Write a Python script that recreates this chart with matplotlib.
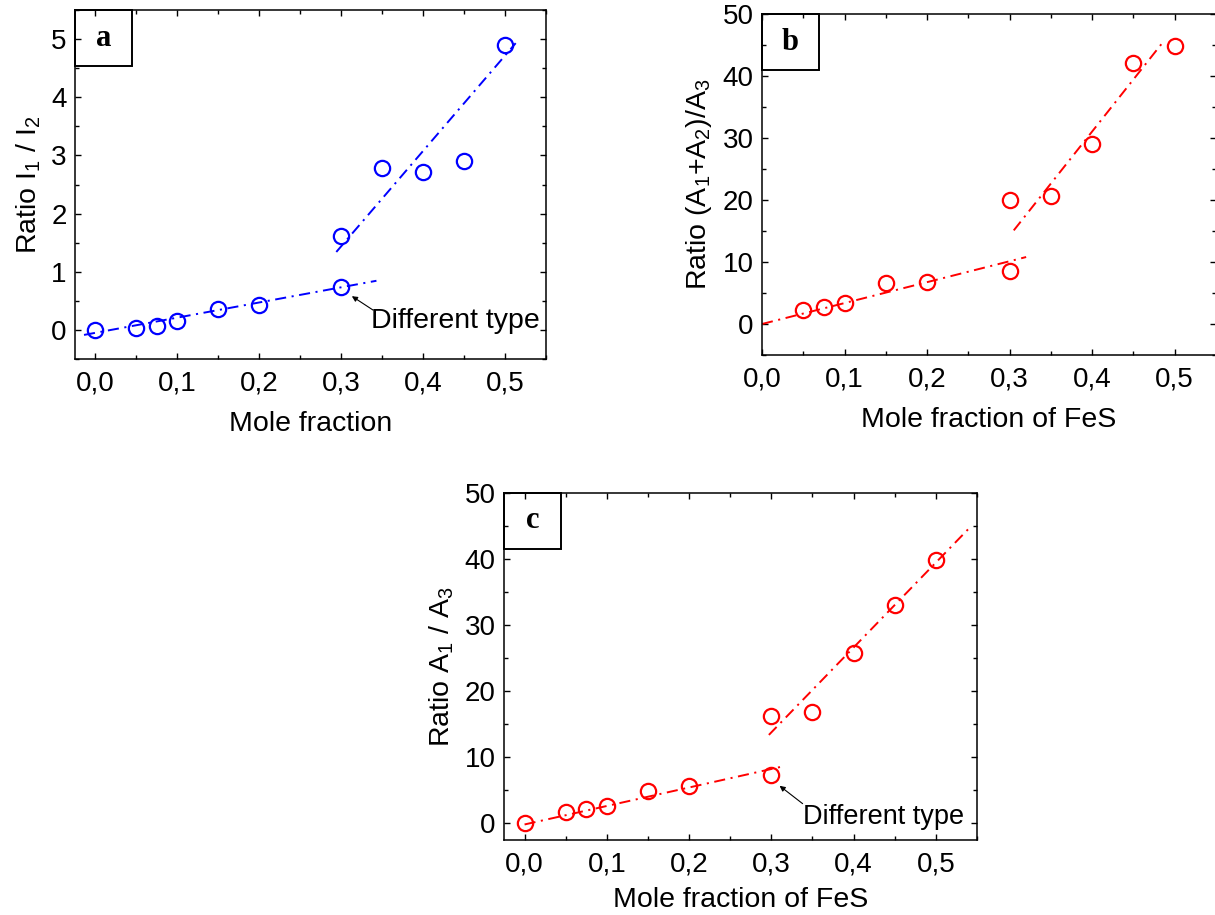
import numpy as np
import matplotlib
matplotlib.use('Agg')
import matplotlib.pyplot as plt
from matplotlib.patches import Rectangle
from matplotlib.ticker import MultipleLocator, FuncFormatter

plt.rcParams['font.family'] = ['Liberation Sans', 'DejaVu Sans']
plt.rcParams['mathtext.default'] = 'regular'
plt.rcParams['lines.scale_dashes'] = False

#~~~~~~~~~~~~~~~~~~~~~~~~~~~~~~~~~~~~~~~~~~~~~
# data
#~~~~~~~~~~~~~~~~~~~~~~~~~~~~~~~~~~~~~~~~~~~~~
# panel a : I1 / I2
a_x1 = [0.0, 0.05, 0.075, 0.1, 0.15, 0.2, 0.3]
a_y1 = [0.0, 0.04, 0.06, 0.155, 0.36, 0.43, 0.73]
a_x2 = [0.3, 0.35, 0.4, 0.45, 0.5]
a_y2 = [1.61, 2.78, 2.72, 2.9, 4.9]
a_fit1_x = [-0.014, 0.343]
a_fit1_y = [-0.086, 0.845]
a_fit2_x = [0.294, 0.513]
a_fit2_y = [1.34, 4.93]

# panel b : (A1+A2)/A3
b_x1 = [0.05, 0.075, 0.1, 0.15, 0.2, 0.3]
b_y1 = [2.27, 2.8, 3.34, 6.6, 6.75, 8.5]
b_x2 = [0.3, 0.35, 0.4, 0.45, 0.5]
b_y2 = [20.0, 20.6, 29.1, 42.1, 44.9]
b_fit1_x = [0.0, 0.32]
b_fit1_y = [0.0, 10.8]
b_fit2_x = [0.305, 0.486]
b_fit2_y = [15.1, 45.5]

# panel c : A1 / A3
c_x1 = [0.0, 0.05, 0.075, 0.1, 0.15, 0.2, 0.3]
c_y1 = [0.0, 1.76, 2.2, 2.6, 4.9, 5.6, 7.4]
c_x2 = [0.3, 0.35, 0.4, 0.45, 0.5]
c_y2 = [16.3, 16.9, 25.75, 33.0, 39.8]
c_fit1_x = [0.0, 0.311]
c_fit1_y = [-0.15, 8.55]
c_fit2_x = [0.297, 0.543]
c_fit2_y = [13.4, 45.0]

W, H = 1215, 915
fig = plt.figure(figsize=(W / 100, H / 100), dpi=100)

def px_axes(l, t, r, b):
     return fig.add_axes([l / W, 1 - b / H, (r - l) / W, (b - t) / H])

dashdot = (0, (8, 4, 1.5, 4))

def setup(ax, xlim, ylim, ymaj, ymin, xlabel, ylabel, letter, xpad=11):
     ax.set_xlim(xlim)
     ax.set_ylim(ylim)
     ax.xaxis.set_major_locator(MultipleLocator(0.1))
     ax.xaxis.set_minor_locator(MultipleLocator(0.05))
     ax.yaxis.set_major_locator(MultipleLocator(ymaj))
     ax.yaxis.set_minor_locator(MultipleLocator(ymin))
     ax.xaxis.set_major_formatter(FuncFormatter(lambda v, p: ('%.1f' % v).replace('.', ',')))
     ax.yaxis.set_major_formatter(FuncFormatter(lambda v, p: '%d' % round(v)))
     ax.tick_params(which='both', direction='in', top=True, right=True, width=1.0)
     ax.tick_params(which='major', length=4.5, labelsize=20)
     ax.tick_params(which='minor', length=3)
     ax.tick_params(axis='x', which='major', pad=8)
     ax.tick_params(axis='y', which='major', pad=6)
     for s in ax.spines.values():
          s.set_linewidth(1.1)
     ax.set_xlabel(xlabel, size=20.5, labelpad=xpad)
     ax.set_ylabel(ylabel, size=20.5, labelpad=6)
     # letter box in the upper left corner, 57 x 56 px
     pos = ax.get_position()
     bw = 57 / (pos.width * W)
     bh = 56 / (pos.height * H)
     ax.add_patch(Rectangle((0, 1 - bh), bw, bh, transform=ax.transAxes, fill=False,
                            lw=1.4, ec='k', clip_on=False, zorder=5))
     ax.text(bw / 2, 1 - bh / 2, letter, transform=ax.transAxes, ha='center', va='center',
             size=22, weight='bold', family='Liberation Serif', zorder=6)

def draw(ax, x1, y1, x2, y2, f1x, f1y, f2x, f2y, col):
     ax.plot(f1x, f1y, color=col, lw=1.4, linestyle=dashdot)
     ax.plot(f2x, f2y, color=col, lw=1.4, linestyle=dashdot)
     ax.plot(x1, y1, 'o', mfc='none', mec=col, ms=11, mew=1.6, linestyle='none')
     ax.plot(x2, y2, 'o', mfc='none', mec=col, ms=11, mew=1.6, linestyle='none')

def note(ax, text_xy, tail, head, size=20.5):
     ax.text(text_xy[0], text_xy[1], 'Different type', size=size, ha='left', va='center')
     ax.annotate('', xy=head, xytext=tail,
                 arrowprops=dict(arrowstyle='-|>', color='k', lw=0.8, mutation_scale=8,
                                 shrinkA=0, shrinkB=0))

# panel a
ax1 = px_axes(75, 10, 546, 359)
draw(ax1, a_x1, a_y1, a_x2, a_y2, a_fit1_x, a_fit1_y, a_fit2_x, a_fit2_y, '#0000ff')
setup(ax1, (-0.025, 0.55), (-0.5, 5.5), 1, 0.5, 'Mole fraction',
      'Ratio I$_1$ / I$_2$', 'a')
note(ax1, (0.336, 0.15), (0.339, 0.34), (0.313, 0.58))

# panel b
ax2 = px_axes(762, 14, 1216, 355)
draw(ax2, b_x1, b_y1, b_x2, b_y2, b_fit1_x, b_fit1_y, b_fit2_x, b_fit2_y, '#ff0000')
setup(ax2, (0.0, 0.55), (-5, 50), 10, 5, 'Mole fraction of FeS',
      'Ratio (A$_1$+A$_2$)/A$_3$', 'b')

# panel c
ax3 = px_axes(504, 493, 977, 840)
draw(ax3, c_x1, c_y1, c_x2, c_y2, c_fit1_x, c_fit1_y, c_fit2_x, c_fit2_y, '#ff0000')
setup(ax3, (-0.025, 0.55), (-2.5, 50), 10, 5, 'Mole fraction of FeS',
      'Ratio A$_1$ / A$_3$', 'c', xpad=7)
note(ax3, (0.338, 1.0), (0.338, 3.0), (0.31, 5.7), size=19.5)

fig.savefig('out.png', dpi=100)
